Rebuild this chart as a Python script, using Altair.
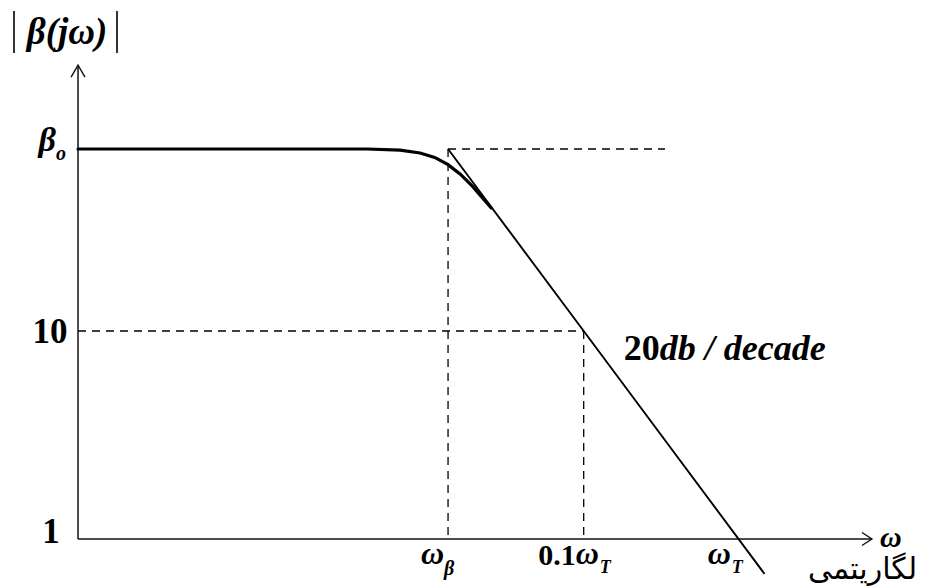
import altair as alt
import numpy as np
import pandas as pd

# ---------------- data (omega_beta = 1) ----------------
beta0 = 75.0            # low-frequency gain
w_beta = 1.0            # corner frequency
w_T = 75.0              # unity-gain frequency
w_axis = 0.0041         # left end of the drawn axis
b_top = 190.0           # top of the vertical axis arrow
w_right = 543.0         # tip of the horizontal axis arrow

# flat part + rounded knee
curve_w = [0.0041, 0.30, 0.49, 0.66, 0.82, 1.00, 1.20, 1.44, 1.74, 1.90]
curve_b = [75.0, 75.0, 74.0, 71.8, 68.3, 63.1, 56.8, 49.6, 42.1, 39.0]

# -20 dB/decade asymptote
asym_w = [1.0, 7.5, 110.0]
asym_b = [75.0, 10.0, 0.68]

# dashed guide segments
dash_w = [1.0, 0.0041, 1.0, 7.5]
dash_w2 = [25.1, 7.5, 1.0, 7.5]
dash_b = [75.0, 10.0, 75.0, 10.0]
dash_b2 = [75.0, 10.0, 1.0, 1.0]

# tick labels
y_tick_vals = [75.0, 10.0, 1.0]
x_tick_vals = [1.0, 7.5, 75.0]

# ---------------- scales ----------------
W, H = 928, 580
xs = alt.Scale(type="log", domain=[10 ** -2.839, 10 ** 3.148], nice=False, zero=False)
ys = alt.Scale(type="log", domain=[10 ** -0.2356, 10 ** 2.553], nice=False, zero=False)
X = alt.X("w:Q", scale=xs, axis=None)
Y = alt.Y("b:Q", scale=ys, axis=None)
X2 = alt.X2("w2:Q")
Y2 = alt.Y2("b2:Q")

SERIF = "Liberation Serif"


def txt(w, b, s, dx=0, dy=0, size=30, italic=True, bold=True, align="left", font=SERIF):
    df = pd.DataFrame({"w": [w], "b": [b], "t": [s]})
    return alt.Chart(df).mark_text(
        dx=dx, dy=dy, fontSize=size,
        fontStyle="italic" if italic else "normal",
        fontWeight="bold" if bold else "normal",
        align=align, baseline="alphabetic", font=font, color="black",
    ).encode(x=X, y=Y, text="t:N")


# axes lines
axes_df = pd.DataFrame({
    "w": [w_axis, w_axis], "b": [1.0, 1.0],
    "w2": [w_axis, w_right], "b2": [b_top, 1.0],
})
axes = alt.Chart(axes_df).mark_rule(color="#111", strokeWidth=1.5).encode(x=X, y=Y, x2=X2, y2=Y2)

up_arrow = alt.Chart(pd.DataFrame({"w": [w_axis], "b": [b_top]})).mark_point(
    shape="M -0.58 1 L 0 0 L 0.58 1", filled=False, color="#111", strokeWidth=1.4,
    size=576, opacity=1,
).encode(x=X, y=Y)
right_arrow = alt.Chart(pd.DataFrame({"w": [w_right], "b": [1.0]})).mark_point(
    shape="M -1 -0.65 L 0 0 L -1 0.65", filled=False, color="#111", strokeWidth=1.4,
    size=400, opacity=1,
).encode(x=X, y=Y)

dashes = alt.Chart(pd.DataFrame({"w": dash_w, "w2": dash_w2, "b": dash_b, "b2": dash_b2})).mark_rule(
    color="black", strokeWidth=1.3, strokeDash=[8, 6]
).encode(x=X, y=Y, x2=X2, y2=Y2)

asym = alt.Chart(pd.DataFrame({"w": asym_w, "b": asym_b})).mark_line(
    color="black", strokeWidth=1.9
).encode(x=X, y=Y)

curve = alt.Chart(pd.DataFrame({"w": curve_w, "b": curve_b, "o": list(range(len(curve_w)))})).mark_line(
    color="black", strokeWidth=3.2, strokeCap="round"
).encode(x=X, y=Y, order="o:Q")

# the two vertical bars of the |...| title
bars = alt.Chart(pd.DataFrame({"bx": [6, 109]})).mark_rule(color="black", strokeWidth=1.6).encode(
    x=alt.X("bx:Q", scale=None), y=alt.value(3), y2=alt.value(45)
)

labels = [
    # y tick labels
    txt(w_axis, y_tick_vals[0], "β", dx=-22, dy=2, size=34, align="right"),
    txt(w_axis, y_tick_vals[0], "o", dx=-22, dy=11, size=20, align="left"),
    txt(w_axis, y_tick_vals[1], "10", dx=-28, dy=12, size=35, italic=False, align="center"),
    txt(w_axis, y_tick_vals[2], "1", dx=-27, dy=4, size=35, italic=False, align="center"),
    # x tick labels
    txt(x_tick_vals[0], 1.0, "ω", dx=-27, dy=25, size=32, align="left"),
    txt(x_tick_vals[0], 1.0, "β", dx=-4, dy=36, size=20, align="left"),
    txt(x_tick_vals[1], 1.0, "0.1", dx=-8, dy=26, size=30, italic=False, align="right"),
    txt(x_tick_vals[1], 1.0, "ω", dx=-8, dy=25, size=32, align="left"),
    txt(x_tick_vals[1], 1.0, "T", dx=16, dy=34, size=18, align="left"),
    txt(x_tick_vals[2], 1.0, "ω", dx=-31, dy=25, size=32, align="left"),
    txt(x_tick_vals[2], 1.0, "T", dx=-7, dy=34, size=18, align="left"),
    # axis titles
    txt(w_right, 1.0, "ω", dx=8, dy=8, size=30, align="left"),
    txt(w_axis, b_top, "β(jω)", dx=-11, dy=-21, size=37, align="center"),
    txt(w_right, 1.0, "لگاریتمی", dx=-64, dy=40, size=30, italic=False, bold=False,
        align="left", font="DejaVu Sans"),
    # slope annotation
    txt(x_tick_vals[1], y_tick_vals[1], "20", dx=40, dy=29, size=36, italic=False, align="left"),
    txt(x_tick_vals[1], y_tick_vals[1], "db / decade", dx=76, dy=29, size=36, align="left"),
]

chart = alt.layer(dashes, axes, up_arrow, right_arrow, asym, curve, bars, *labels).properties(
    width=W, height=H, padding=0, autosize=alt.AutoSizeParams(type="none"), background="white"
).configure_view(stroke=None)

chart.save("out.html", embed_options={"renderer": "svg", "actions": False})
